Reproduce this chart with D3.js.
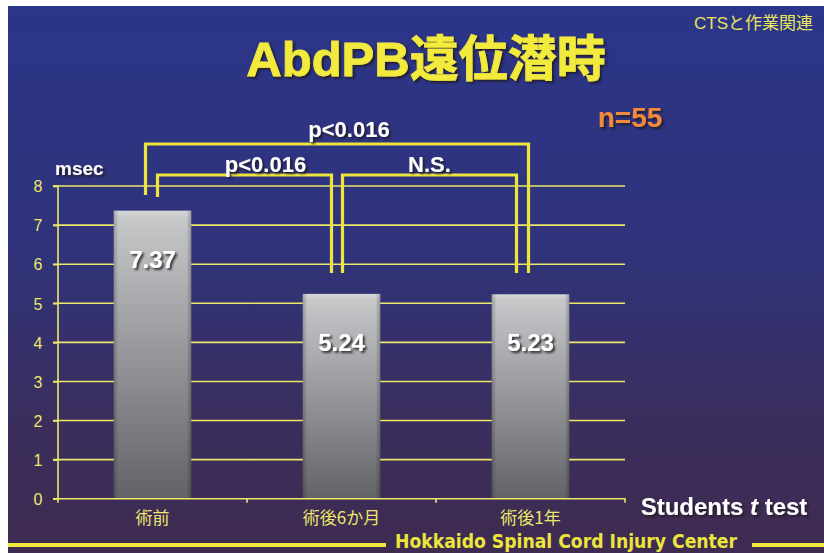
<!DOCTYPE html>
<html><head><meta charset="utf-8">
<script src="https://cdn.jsdelivr.net/npm/d3@7"></script>
<style>html,body{margin:0;padding:0;background:#fff;}svg{display:block;}</style>
</head><body>
<script>
const categories = ["術前", "術後6か月", "術後1年"];
const values = [7.37, 5.24, 5.23];
const valueLabels = ["7.37", "5.24", "5.23"];
const yTicks = [0, 1, 2, 3, 4, 5, 6, 7, 8];
const title = "AbdPB遠位潜時";
const comparisons = [
  {from: 0, to: 2, label: "p<0.016", level: 0},
  {from: 0, to: 1, label: "p<0.016", level: 1},
  {from: 1, to: 2, label: "N.S.", level: 1}
];

const W = 824, H = 553;
const svg = d3.select("body").append("svg").attr("width", W).attr("height", H);
const defs = svg.append("defs");

const bg = defs.append("linearGradient").attr("id","bg").attr("x1",0).attr("y1",0).attr("x2",0).attr("y2",1);
bg.append("stop").attr("offset","0%").attr("stop-color","#2b3589");
bg.append("stop").attr("offset","45%").attr("stop-color","#30337a");
bg.append("stop").attr("offset","75%").attr("stop-color","#3a2e5e");
bg.append("stop").attr("offset","100%").attr("stop-color","#3f2b50");

const bar = defs.append("linearGradient").attr("id","bar").attr("x1",0).attr("y1",0).attr("x2",0).attr("y2",1);
bar.append("stop").attr("offset","0%").attr("stop-color","#d6d7d9");
bar.append("stop").attr("offset","3%").attr("stop-color","#c6c7c9");
bar.append("stop").attr("offset","100%").attr("stop-color","#626367");
const side = defs.append("linearGradient").attr("id","side").attr("x1",0).attr("y1",0).attr("x2",1).attr("y2",0);
side.append("stop").attr("offset","0%").attr("stop-color","#000").attr("stop-opacity",0.22);
side.append("stop").attr("offset","6%").attr("stop-color","#000").attr("stop-opacity",0);
side.append("stop").attr("offset","94%").attr("stop-color","#000").attr("stop-opacity",0);
side.append("stop").attr("offset","100%").attr("stop-color","#000").attr("stop-opacity",0.25);

const sh = defs.append("filter").attr("id","sh").attr("x","-20%").attr("y","-30%").attr("width","140%").attr("height","160%");
sh.append("feDropShadow").attr("dx",2).attr("dy",2).attr("stdDeviation",1).attr("flood-color","#1a1420").attr("flood-opacity",0.85);

svg.append("rect").attr("x",8).attr("y",6).attr("width",W-8).attr("height",H-6).attr("fill","url(#bg)");

const x0 = 58, x1 = 625, yBase = 498.7, yTop = 186;
const x = d3.scaleBand().domain(categories).range([x0, x1]).paddingInner(0).paddingOuter(0);
const y = d3.scaleLinear().domain([0, 8]).range([yBase, yTop]);
const bw = x.bandwidth() * 0.41;
const cx = c => x(c) + x.bandwidth()/2;

const yellow = "#ede86a";
const lat = "'Liberation Sans', Arial, 'Noto Sans CJK JP', sans-serif";
const cjk = "'Liberation Sans', Arial, 'Noto Sans CJK JP', sans-serif";

// gridlines
svg.append("g").selectAll("line").data(yTicks.filter(d => d > 0)).join("line")
  .attr("x1", x0 - 5).attr("x2", x1).attr("y1", d => y(d)).attr("y2", d => y(d))
  .attr("stroke", yellow).attr("stroke-width", 1.6);

// y axis
const yAxis = d3.axisLeft(y).tickValues(yTicks).tickSize(5).tickFormat(d3.format("d"));
const gy = svg.append("g").attr("transform", `translate(${x0},0)`).call(yAxis);
gy.select(".domain").attr("stroke", yellow).attr("stroke-width", 1.6).attr("d", `M-5,${yTop}H0V${yBase}`);
gy.selectAll(".tick line").attr("stroke", yellow).attr("stroke-width", 1.6);
gy.selectAll(".tick text").attr("fill", yellow).attr("font-family", "'Liberation Sans Narrow','Liberation Sans',Arial,sans-serif")
  .attr("font-size", 16).attr("x", -20).attr("dy","0.36em").attr("text-anchor","middle")
  .style("font-stretch","condensed");

// bars
const bars = svg.append("g");
bars.selectAll("rect.b").data(values).join("rect").attr("class","b")
  .attr("x", (d,i) => cx(categories[i]) - bw/2).attr("width", bw)
  .attr("y", d => y(d)).attr("height", d => yBase - y(d)).attr("fill","url(#bar)");
bars.selectAll("rect.s").data(values).join("rect").attr("class","s")
  .attr("x", (d,i) => cx(categories[i]) - bw/2).attr("width", bw)
  .attr("y", d => y(d)).attr("height", d => yBase - y(d)).attr("fill","url(#side)");

// x axis
const xAxis = d3.axisBottom(x).tickSize(0).tickFormat(d => d);
const gx = svg.append("g").attr("transform", `translate(0,${yBase})`).call(xAxis);
gx.select(".domain").attr("stroke", yellow).attr("stroke-width", 1.6).attr("d", `M${x0-5},0H${x1}V4`);
gx.selectAll(".tick text").attr("fill", yellow).attr("font-family", "'Noto Sans CJK JP', sans-serif")
  .attr("font-size", 17).attr("y", 13).attr("dy","0.71em");
gx.selectAll(".tick line").remove();
gx.selectAll("line.sep").data(categories.slice(1)).join("line").attr("class","sep")
  .attr("x1", d => x(d)).attr("x2", d => x(d)).attr("y1", 0).attr("y2", 4)
  .attr("stroke", yellow).attr("stroke-width", 1.6);
svg.append("line").attr("x1", x0).attr("x2", x0).attr("y1", yBase).attr("y2", yBase+4).attr("stroke", yellow).attr("stroke-width",1.6);

// value labels
svg.append("g").selectAll("text").data(values).join("text")
  .attr("x", (d,i) => cx(categories[i])).attr("y", d => y(d) + 57)
  .attr("text-anchor","middle").attr("fill","#ffffff").attr("font-family", lat)
  .attr("font-weight","bold").attr("font-size", 24).attr("filter","url(#sh)")
  .text((d,i) => valueLabels[i]);

// brackets
const bcol = "#ece53c";
const levTop = [144, 175];
comparisons.forEach(c => {
  const top = levTop[c.level];
  let lx = cx(categories[c.from]), rx = cx(categories[c.to]);
  let ly, ry = 273;
  if (c.level === 0) { lx -= 7; rx -= 2; ly = 195; }
  else {
    if (c.from === 0) { lx += 5; rx -= 10; ly = 197; }
    else { lx += 1; rx -= 14; ly = 273; }
  }
  svg.append("path").attr("d", `M${lx},${ly}V${top}H${rx}V${ry}`)
    .attr("fill","none").attr("stroke", bcol).attr("stroke-width", 3.2);
  svg.append("text").attr("x", (lx+rx)/2 + (c.level===0 ? 12 : (c.from===0 ? 21 : 0)))
    .attr("y", c.level===0 ? top - 7 : top - 3).attr("text-anchor","middle").attr("fill","#ffffff")
    .attr("font-family", lat).attr("font-weight","bold").attr("font-size", 22)
    .attr("filter","url(#sh)").text(c.label);
});

// title
svg.append("text").attr("x", 426).attr("y", 76).attr("text-anchor","middle")
  .attr("fill","#f2ea3c").attr("font-family", cjk).attr("font-weight","bold").attr("font-size", 49)
  .attr("stroke","#f2ea3c").attr("stroke-width",0.8)
  .attr("filter","url(#sh)").text(title);

// n=55
svg.append("text").attr("x", 630).attr("y", 127).attr("text-anchor","middle")
  .attr("fill","#f28a3e").attr("font-family", lat).attr("font-weight","bold").attr("font-size", 28)
  .attr("filter","url(#sh)").text("n=55");

// corner tag
svg.append("text").attr("x", 813).attr("y", 29).attr("text-anchor","end")
  .attr("fill","#e9e55a").attr("font-family", "'Liberation Sans','Noto Sans CJK JP',sans-serif").attr("font-size", 17)
  .text("CTSと作業関連");

// msec
svg.append("text").attr("x", 55).attr("y", 175)
  .attr("fill","#ffffff").attr("font-family", lat).attr("font-weight","bold").attr("font-size", 19)
  .attr("filter","url(#sh)").text("msec");

// Students t test
const st = svg.append("text").attr("x", 724).attr("y", 515).attr("text-anchor","middle")
  .attr("fill","#ffffff").attr("font-family", lat).attr("font-weight","bold").attr("font-size", 24)
  .attr("filter","url(#sh)");
st.append("tspan").text("Students ");
st.append("tspan").attr("font-style","italic").text("t");
st.append("tspan").text(" test");

// footer
const fy = 545;
svg.append("line").attr("x1", 8).attr("x2", 386).attr("y1", fy).attr("y2", fy).attr("stroke","#f0ea3a").attr("stroke-width", 4);
svg.append("line").attr("x1", 752).attr("x2", 824).attr("y1", fy).attr("y2", fy).attr("stroke","#f0ea3a").attr("stroke-width", 4);
svg.append("text").attr("x", 395).attr("y", 548).attr("textLength", 342).attr("lengthAdjust","spacingAndGlyphs")
  .attr("fill","#ece53c").attr("font-family", "'DejaVu Sans', sans-serif").attr("font-weight","bold").attr("font-size", 19)
  .text("Hokkaido  Spinal Cord Injury Center");
</script>
</body></html>
